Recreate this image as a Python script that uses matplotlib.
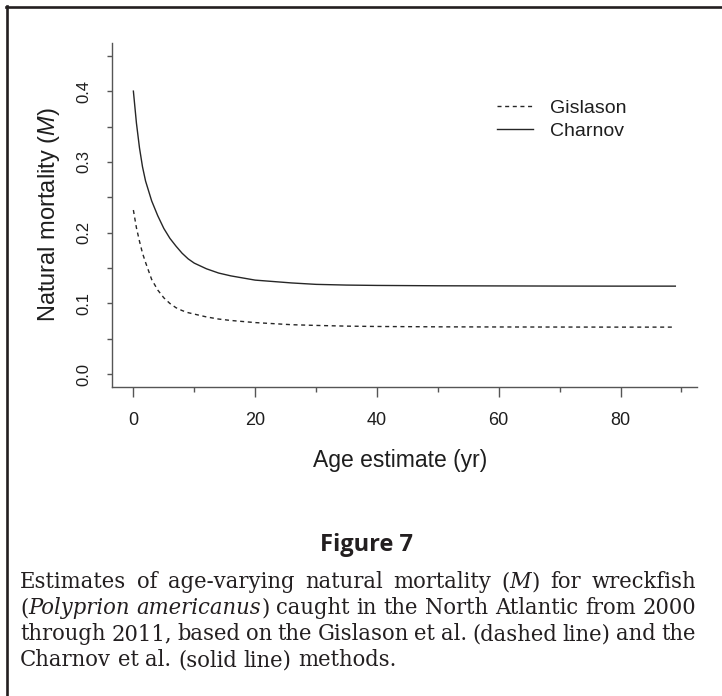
import matplotlib
matplotlib.use("Agg")
import matplotlib.pyplot as plt
from matplotlib.lines import Line2D

# ---------------- data ----------------
ages = [0, 0.5, 1, 1.5, 2, 3, 4, 5, 6, 7, 8, 9, 10, 12, 14, 16, 18, 20,
        23, 26, 30, 35, 40, 50, 60, 70, 80, 89]
charnov = [0.400, 0.355, 0.320, 0.293, 0.273, 0.245, 0.224, 0.206, 0.192,
           0.181, 0.171, 0.163, 0.157, 0.149, 0.143, 0.139, 0.136, 0.133,
           0.131, 0.129, 0.127, 0.126, 0.1255, 0.125, 0.1248, 0.1246,
           0.1245, 0.1245]
gislason = [0.232, 0.207, 0.188, 0.171, 0.158, 0.134, 0.119, 0.108, 0.100,
            0.094, 0.090, 0.087, 0.085, 0.081, 0.078, 0.076, 0.0745, 0.073,
            0.0715, 0.070, 0.069, 0.068, 0.0675, 0.067, 0.0668, 0.0667,
            0.0666, 0.0666]
series_labels = ["Gislason", "Charnov"]
x_ticks = [0, 20, 40, 60, 80]
x_minor_ticks = [10, 30, 50, 70, 90]
x_tick_labels = ["0", "20", "40", "60", "80"]
y_ticks = [0.0, 0.1, 0.2, 0.3, 0.4]
y_minor_ticks = [0.05, 0.15, 0.25, 0.35, 0.45]
y_tick_labels = ["0.0", "0.1", "0.2", "0.3", "0.4"]
x_label = "Age estimate (yr)"
y_label = r"Natural mortality ($M$)"
fig_title = "Figure 7"
caption_lines = [
    "Estimates of age-varying natural mortality (*M*) for wreckfish",
    "(*Polyprion* *americanus*) caught in the North Atlantic from 2000",
    "through 2011, based on the Gislason et al. (dashed line) and the",
    "Charnov et al. (solid line) methods.",
]

# ---------------- style ----------------
W, H = 722, 696
SANS = ["Liberation Sans", "DejaVu Sans"]
plt.rcParams["font.family"] = SANS
plt.rcParams["mathtext.fontset"] = "custom"
plt.rcParams["mathtext.rm"] = "Liberation Sans"
plt.rcParams["mathtext.it"] = "Liberation Sans:italic"

LINE_C = "#262626"
AX_C = "#555555"
TXT_C = "#1e1e1e"


def fx(x):
    return x / W


def fy(y):
    return 1 - y / H


fig = plt.figure(figsize=(W / 100, H / 100), dpi=100)
fig.patch.set_facecolor("white")

ax_l, ax_r, ax_t, ax_b = 111.7, 697.0, 43.0, 387.0
ax = fig.add_axes([fx(ax_l), fy(ax_b), (ax_r - ax_l) / W, (ax_b - ax_t) / H])

ax.plot(ages, gislason, color=LINE_C, lw=1.0, ls=(0, (2.9, 2.6)),
        label=series_labels[0])
ax.plot(ages, charnov, color=LINE_C, lw=1.0, label=series_labels[1])

ax.set_xlim(-3.56, 92.56)
ax.set_ylim(-0.018, 0.468)

for s in ("top", "right"):
    ax.spines[s].set_visible(False)
for s in ("left", "bottom"):
    ax.spines[s].set_color(AX_C)
    ax.spines[s].set_linewidth(1.0)

ax.set_xticks(x_ticks)
ax.set_xticks(x_minor_ticks, minor=True)
ax.set_xticklabels(x_tick_labels)
ax.set_yticks(y_ticks)
ax.set_yticks(y_minor_ticks, minor=True)
ax.set_yticklabels(y_tick_labels)

ax.tick_params(axis="x", which="major", length=7.2, width=1.0, color=AX_C,
               pad=17.0, labelsize=13, labelcolor=TXT_C)
ax.tick_params(axis="x", which="minor", length=3.6, width=1.0, color=AX_C)
ax.tick_params(axis="y", which="both", length=3.6, width=1.0, color=AX_C)
ax.tick_params(axis="y", which="major", pad=16.6, labelsize=12,
               labelcolor=TXT_C)
plt.setp(ax.get_xticklabels(), va="center")
plt.setp(ax.get_yticklabels(), rotation=90, ha="center", va="center")

ax.set_xlabel(x_label, fontsize=16.5, color=TXT_C)
ax.xaxis.set_label_coords(0.5 - 4 / (ax_r - ax_l), -(460 - ax_b) / (ax_b - ax_t))
ax.xaxis.label.set_va("center")
ax.set_ylabel(y_label, fontsize=17, color=TXT_C)
ax.yaxis.set_label_coords((49.5 - ax_l) / (ax_r - ax_l), 0.5)
ax.yaxis.label.set_va("center")

leg = ax.legend(loc="upper left", bbox_to_anchor=(fx(497), fy(99)),
                bbox_transform=fig.transFigure, frameon=False,
                fontsize=14, handlelength=1.85, handletextpad=0.9,
                labelspacing=0.3, borderpad=0, borderaxespad=0)
for t in leg.get_texts():
    t.set_color(TXT_C)

# ---------------- page frame ----------------
fig.add_artist(Line2D([fx(6), 1.0], [fy(7), fy(7)], color="#231f20",
                      lw=1.9, transform=fig.transFigure))
fig.add_artist(Line2D([fx(7), fx(7)], [fy(6), 0.0], color="#231f20",
                      lw=1.9, transform=fig.transFigure))

# ---------------- title ----------------
fig.text(fx(367), fy(545), fig_title, fontsize=17, fontweight="bold",
         family=["Open Sans", "DejaVu Sans"], color="#231f20",
         ha="center", va="center")

# ---------------- justified caption ----------------
renderer = fig.canvas.get_renderer()
SERIF = ["DejaVu Serif"]
STRETCH = "condensed"
cap_left, cap_right = 20.0, 696.0
cap_w = cap_right - cap_left
baselines = [588, 614, 640, 666]


def parse(line):
    words = []
    for w in line.split(" "):
        parts = w.split("*")
        segs = [(p, i % 2 == 1) for i, p in enumerate(parts) if p]
        words.append(segs)
    return words


def seg_width(txt, italic, size):
    t = fig.text(0, 0, txt, fontsize=size, family=SERIF, fontstretch=STRETCH,
                 fontstyle="italic" if italic else "normal")
    w = t.get_window_extent(renderer).width
    t.remove()
    return w


def space_width(size):
    return seg_width("a a", False, size) - seg_width("aa", False, size)


base = 12.0
parsed = [parse(l) for l in caption_lines]
sp_base = space_width(base)
fits = []
for words in parsed[:3]:
    ww = sum(seg_width(s, it, base) for segs in words for s, it in segs)
    fits.append(base * cap_w / (ww + 0.8 * sp_base * (len(words) - 1)))
size = min(fits)

for li, words in enumerate(parsed):
    widths = [[seg_width(s, it, size) for s, it in segs] for segs in words]
    tot = sum(sum(w) for w in widths)
    if li < len(parsed) - 1:
        gap = (cap_w - tot) / (len(words) - 1)
    else:
        gap = space_width(size)
    x = cap_left
    for segs, ws in zip(words, widths):
        for (s, it), w in zip(segs, ws):
            fig.text(fx(x), fy(baselines[li]), s, fontsize=size, family=SERIF,
                     fontstretch=STRETCH,
                     fontstyle="italic" if it else "normal",
                     color="#231f20", ha="left", va="baseline")
            x += w
        x += gap

fig.savefig("out.png", dpi=100, facecolor="white")
